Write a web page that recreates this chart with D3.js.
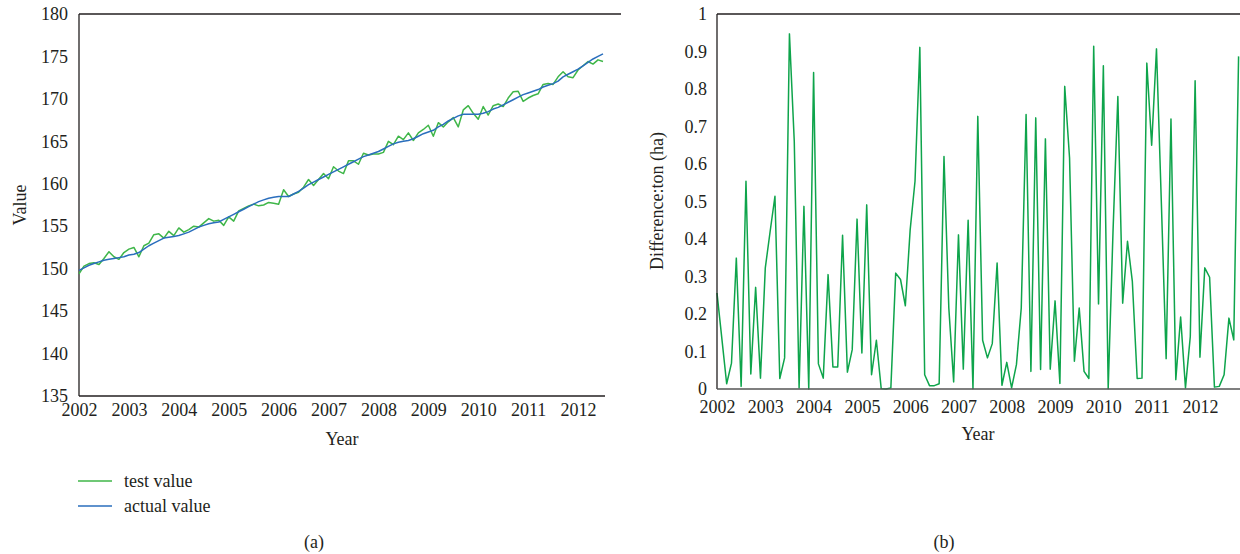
<!DOCTYPE html>
<html>
<head>
<meta charset="utf-8">
<script src="https://cdn.jsdelivr.net/npm/d3@7"></script>
<style>
  html, body { margin: 0; padding: 0; background: #fff; }
  svg { display: block; }
  text { font-family: "Liberation Serif", "DejaVu Serif", serif; fill: #231f20; }
</style>
</head>
<body>
<div id="chart"></div>
<script>
// ---- data (one value every 0.1 year, starting 2002) ----
const testValue = [
  149.4, 150.3, 150.6, 150.7, 150.5, 151.2, 152.0, 151.4, 151.1, 151.9,
  152.3, 152.5, 151.4, 152.7, 153.0, 154.0, 154.1, 153.6, 154.4, 153.9,
  154.8, 154.3, 154.6, 155.0, 154.9, 155.4, 155.9, 155.6, 155.7, 155.1,
  156.1, 155.6, 156.8, 157.1, 157.4, 157.6, 157.4, 157.5, 157.8, 157.7,
  157.6, 159.3, 158.5, 158.8, 159.0, 159.6, 160.5, 159.8, 160.5, 161.2,
  160.6, 162.0, 161.5, 161.2, 162.7, 162.7, 162.3, 163.6, 163.4, 163.5,
  163.5, 163.7, 165.0, 164.6, 165.6, 165.2, 166.0, 165.1, 166.0, 166.4,
  166.9, 165.6, 167.2, 166.7, 167.3, 167.8, 166.7, 168.7, 169.2, 168.3,
  167.6, 169.1, 168.1, 169.2, 169.4, 169.1, 170.1, 170.85, 170.9, 169.7,
  170.1, 170.4, 170.6, 171.7, 171.8, 171.7, 172.6, 173.2, 172.6, 172.5,
  173.4, 173.9, 174.4, 174.1, 174.6, 174.4
];
const actualValue = [
  149.8, 150.1, 150.4, 150.6, 150.8, 151.0, 151.1, 151.2, 151.3, 151.4,
  151.6, 151.7, 151.9, 152.3, 152.7, 153.0, 153.3, 153.6, 153.7, 153.8,
  153.9, 154.1, 154.3, 154.6, 154.9, 155.1, 155.3, 155.4, 155.5, 155.8,
  156.1, 156.4, 156.7, 157.0, 157.3, 157.6, 157.9, 158.1, 158.3, 158.4,
  158.5, 158.5, 158.5, 158.8, 159.1, 159.5, 159.9, 160.2, 160.5, 160.8,
  161.1, 161.4, 161.7, 162.0, 162.3, 162.6, 162.9, 163.2, 163.4, 163.6,
  163.8, 164.1, 164.4, 164.7, 164.9, 165.0, 165.1, 165.3, 165.6, 165.9,
  166.1, 166.3, 166.7, 167.0, 167.4, 167.7, 168.0, 168.2, 168.2, 168.2,
  168.2, 168.3, 168.5, 168.8, 169.0, 169.3, 169.6, 169.9, 170.2, 170.5,
  170.7, 170.9, 171.1, 171.4, 171.6, 171.8, 172.1, 172.6, 172.9, 173.2,
  173.5, 173.9, 174.3, 174.7, 175.0, 175.3
];
const difference = [
  0.256, 0.135, 0.014, 0.069, 0.349, 0.007, 0.554, 0.040, 0.271, 0.029,
  0.323, 0.420, 0.514, 0.028, 0.083, 0.947, 0.660, 0.003, 0.487, 0.000,
  0.844, 0.067, 0.029, 0.305, 0.059, 0.059, 0.410, 0.045, 0.105, 0.453,
  0.096, 0.491, 0.038, 0.130, 0.001, 0.000, 0.003, 0.309, 0.292, 0.222,
  0.425, 0.554, 0.911, 0.038, 0.009, 0.009, 0.014, 0.620, 0.216, 0.019,
  0.411, 0.053, 0.450, 0.001, 0.727, 0.130, 0.083, 0.121, 0.336, 0.010,
  0.071, 0.003, 0.065, 0.216, 0.732, 0.047, 0.723, 0.052, 0.667, 0.053,
  0.235, 0.015, 0.807, 0.616, 0.074, 0.216, 0.047, 0.028, 0.914, 0.227,
  0.862, 0.001, 0.420, 0.780, 0.229, 0.394, 0.287, 0.028, 0.029, 0.869,
  0.650, 0.907, 0.500, 0.081, 0.720, 0.025, 0.192, 0.003, 0.140, 0.822,
  0.085, 0.323, 0.298, 0.005, 0.007, 0.038, 0.189, 0.131, 0.887
];
const yearTicks = [2002, 2003, 2004, 2005, 2006, 2007, 2008, 2009, 2010, 2011, 2012];
const valueTicks = [135, 140, 145, 150, 155, 160, 165, 170, 175, 180];
const diffTicks = [0, 0.1, 0.2, 0.3, 0.4, 0.5, 0.6, 0.7, 0.8, 0.9, 1];
const legendNames = ["test value", "actual value"];

const W = 1240, H = 554;
const svg = d3.select("#chart").append("svg")
  .attr("width", W).attr("height", H)
  .attr("viewBox", `0 0 ${W} ${H}`);

const FS = 18;
const axisColor = "#231f20";

// ---------- panel (a) ----------
const xA = d3.scaleLinear().domain([2002, 2012.54]).range([79, 605]);
const yA = d3.scaleLinear().domain([135, 180]).range([396, 14]);
const ga = svg.append("g");

const yAxisA = ga.append("g").attr("transform", "translate(79,0)")
  .call(d3.axisLeft(yA).tickValues(valueTicks).tickSize(0).tickPadding(11));
const xAxisA = ga.append("g").attr("transform", "translate(0,396)")
  .call(d3.axisBottom(xA).tickValues(yearTicks).tickSize(0).tickPadding(7).tickFormat(d3.format("d")));
[yAxisA, xAxisA].forEach(a => {
  a.select(".domain").remove();
  a.selectAll("text").style("font-size", FS + "px").style("font-family", null).attr("fill", axisColor);
});

// frame: left, top, bottom
ga.append("line").attr("x1", 79).attr("x2", 79).attr("y1", 14).attr("y2", 396)
  .attr("stroke", axisColor).attr("stroke-width", 1.3);
ga.append("line").attr("x1", 79).attr("x2", 621).attr("y1", 14).attr("y2", 14)
  .attr("stroke", axisColor).attr("stroke-width", 1.3);
ga.append("line").attr("x1", 79).attr("x2", 605).attr("y1", 396).attr("y2", 396)
  .attr("stroke", axisColor).attr("stroke-width", 1.3);

const lineA = d3.line().x((d, i) => xA(2002 + i / 10)).y(d => yA(d));
const greenA = "#3fb649", blueA = "#2a6ebd";
ga.append("path").datum(testValue).attr("d", lineA)
  .attr("fill", "none").attr("stroke", greenA).attr("stroke-width", 1.5).attr("stroke-linejoin", "round");
ga.append("path").datum(actualValue).attr("d", lineA)
  .attr("fill", "none").attr("stroke", blueA).attr("stroke-width", 1.5).attr("stroke-linejoin", "round");

ga.append("text").attr("transform", "translate(26,205) rotate(-90)")
  .attr("text-anchor", "middle").style("font-size", FS + "px").text("Value");
ga.append("text").attr("x", 342).attr("y", 445)
  .attr("text-anchor", "middle").style("font-size", FS + "px").text("Year");

// legend
const legend = ga.append("g");
[greenA, blueA].forEach((c, i) => {
  const y = 481 + i * 25;
  legend.append("line").attr("x1", 78).attr("x2", 112).attr("y1", y).attr("y2", y)
    .attr("stroke", c).attr("stroke-width", 1.3);
  legend.append("text").attr("x", 124).attr("y", y + 5.5)
    .style("font-size", FS + "px").text(legendNames[i]);
});
ga.append("text").attr("x", 314).attr("y", 548).attr("text-anchor", "middle")
  .style("font-size", FS + "px").text("(a)");

// ---------- panel (b) ----------
const xB = d3.scaleLinear().domain([2002, 2012.85]).range([717, 1241]);
const yB = d3.scaleLinear().domain([0, 1]).range([389, 14]);
const gb = svg.append("g");

const yAxisB = gb.append("g").attr("transform", "translate(717,0)")
  .call(d3.axisLeft(yB).tickValues(diffTicks).tickSize(0).tickPadding(10).tickFormat(d => d3.format("~g")(d)));
const xAxisB = gb.append("g").attr("transform", "translate(0,389)")
  .call(d3.axisBottom(xB).tickValues(yearTicks).tickSize(0).tickPadding(11).tickFormat(d3.format("d")));
[yAxisB, xAxisB].forEach(a => {
  a.select(".domain").remove();
  a.selectAll("text").style("font-size", FS + "px").style("font-family", null).attr("fill", axisColor);
});

const lineB = d3.line().x((d, i) => xB(2002 + i / 10)).y(d => yB(d));
gb.append("path").datum(difference).attr("d", lineB)
  .attr("fill", "none").attr("stroke", "#0ea44b").attr("stroke-width", 1.5).attr("stroke-linejoin", "round");

gb.append("line").attr("x1", 717).attr("x2", 717).attr("y1", 14).attr("y2", 389)
  .attr("stroke", axisColor).attr("stroke-width", 1.3);
gb.append("line").attr("x1", 717).attr("x2", 1240).attr("y1", 14).attr("y2", 14)
  .attr("stroke", axisColor).attr("stroke-width", 1.3);
gb.append("line").attr("x1", 717).attr("x2", 1240).attr("y1", 389).attr("y2", 389)
  .attr("stroke", "#555").attr("stroke-width", 1.3);

gb.append("text").attr("transform", "translate(663,201) rotate(-90)")
  .attr("text-anchor", "middle").style("font-size", FS + "px").text("Difference:ton (ha)");
gb.append("text").attr("x", 978).attr("y", 440)
  .attr("text-anchor", "middle").style("font-size", FS + "px").text("Year");
gb.append("text").attr("x", 944).attr("y", 548).attr("text-anchor", "middle")
  .style("font-size", FS + "px").text("(b)");
</script>
</body>
</html>
